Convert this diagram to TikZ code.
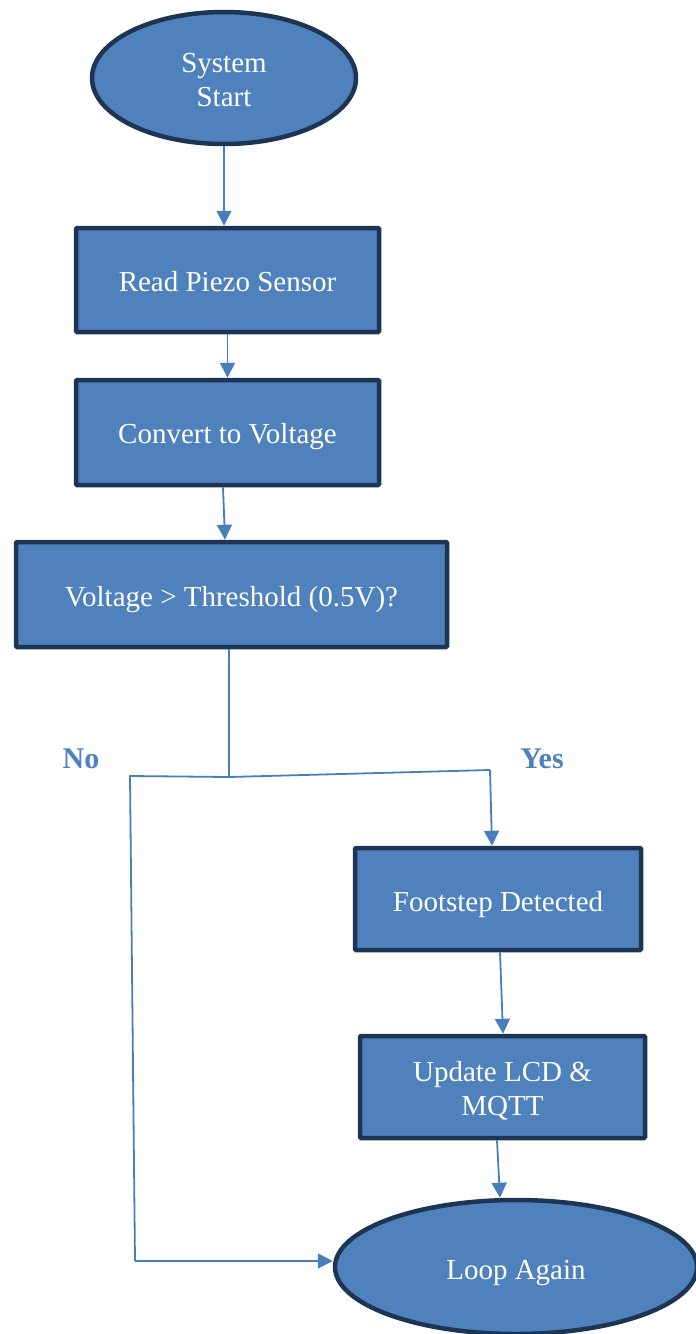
\documentclass[tikz,border=0pt]{standalone}
\usepackage{fontspec}
\setmainfont{Liberation Serif}
\usetikzlibrary{shapes.geometric,arrows.meta}
\definecolor{boxfill}{HTML}{4F81BD}
\definecolor{boxline}{HTML}{1D3453}
\definecolor{conn}{HTML}{4A7EBB}
\newcommand{\lowtxt}[2][-5pt]{\raisebox{#1}[\height][\depth]{\begin{tabular}{@{}c@{}}#2\end{tabular}}}
\tikzset{
  procbox/.style={draw=boxline,line width=4.5pt,fill=boxfill,rectangle,rounded corners=1pt,
    text=white,font=\fontsize{29}{34}\selectfont,inner sep=0pt},
  termell/.style={draw=boxline,line width=4.5pt,fill=boxfill,ellipse,
    text=white,font=\fontsize{29}{34}\selectfont,inner sep=0pt},
  conline/.style={draw=conn,line width=1.8pt},
  conarrow/.style={conline,-{Triangle[width=15pt,length=15pt]}},
  branchlbl/.style={text=boxfill,font=\fontsize{30}{34}\selectfont\bfseries}
}
\begin{document}
\begin{tikzpicture}[x=1pt,y=-1pt]
\useasboundingbox (0,0) rectangle (696,1334);
\fill[white] (0,0) rectangle (696,1334);
\node[termell,minimum width=264,minimum height=132] (start) at (224,78) {\lowtxt{System\\Start}};
\node[procbox,minimum width=303,minimum height=104] (read) at (227.5,280) {\lowtxt{Read Piezo Sensor}};
\node[procbox,minimum width=303,minimum height=105] (conv) at (227.5,432.5) {\lowtxt[-4pt]{Convert to Voltage}};
\node[procbox,minimum width=431,minimum height=105] (thr) at (231.5,594.5) {\lowtxt{Voltage > Threshold (0.5V)?}};
\node[procbox,minimum width=286,minimum height=102] (foot) at (498,899) {\lowtxt[-6pt]{Footstep Detected}};
\node[procbox,minimum width=285,minimum height=102] (upd) at (502.5,1087) {\lowtxt{Update LCD \&\\MQTT}};
\node[termell,minimum width=362,minimum height=134] (loop) at (516,1267) {\lowtxt[-6pt]{Loop Again}};
\node[branchlbl] (no) at (81,759) {No};
\node[branchlbl] (yes) at (542,759) {Yes};
\coordinate (j) at (229,777);
\coordinate (nl) at (130,776);
\coordinate (nb) at (135,1261);
\coordinate (yr) at (490,770);
\draw[conarrow] (start.south) -- (read.north -| start.south);
\draw[conarrow] (read.south) -- (conv.north);
\draw[conarrow] (conv.south -| 223,0) -- (thr.north -| 225,0);
\draw[conline] (thr.south -| j) -- (j);
\draw[conline] (j) -- (nl) -- (nb);
\draw[conarrow] (nb) -- (loop.west |- nb);
\draw[conline] (j) -- (yr);
\draw[conarrow] (yr) -- (foot.north -| 492,0);
\draw[conarrow] (foot.south -| 500,0) -- (upd.north -| 503,0);
\draw[conarrow] (upd.south -| 497,0) -- (loop.north -| 500,0);
\end{tikzpicture}
\end{document}
